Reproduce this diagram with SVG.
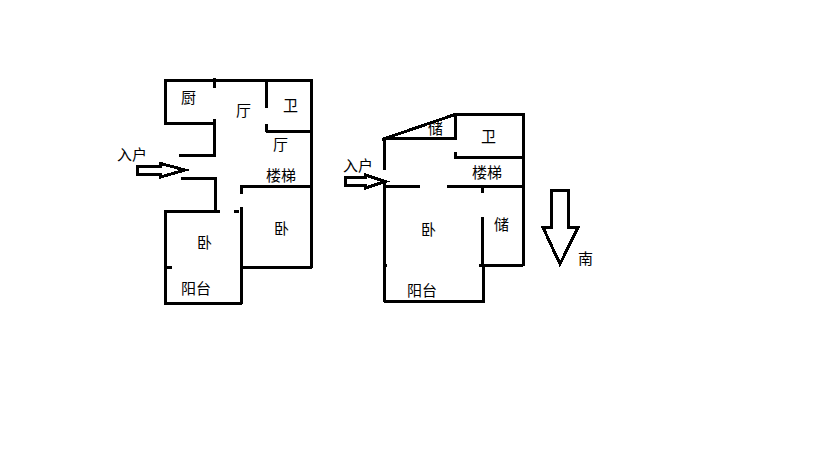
<svg xmlns="http://www.w3.org/2000/svg" width="819" height="460" viewBox="0 0 819 460">
<style>
.w{fill:none;stroke:#000;stroke-width:3;shape-rendering:crispEdges}
.a{fill:#fff;stroke:#000;stroke-width:3;stroke-linejoin:miter;shape-rendering:crispEdges}
text{font-family:"Noto Sans CJK SC","Noto Sans",sans-serif;font-size:15px;fill:#000}
</style>
<rect width="819" height="460" fill="#fff"/>
<g id="plan-left" class="w">
<path d="M214.500 88V80.500H165.500V123.500H214.500V119M214.500 78V88"/>
<path d="M214.500 80.500H311.500V268"/>
<path d="M214.500 123.500V157M179 155.500H216"/>
<path d="M181 178.500H215.500V212"/>
<path d="M266.500 81V108M266.500 124V132M266 131.500H311"/>
<path d="M241.500 194V186.500H311"/>
<path d="M241.500 207V304"/>
<path d="M164 211.500H220M234 211.500H239"/>
<path d="M165.500 210V304M164 303.500H242"/>
<path d="M165 267.500H172M240 267.500H312"/>
</g>
<g id="plan-right" class="w">
<path d="M384.500 170V139M382 139.500L455 114.500H523.500V266"/>
<path d="M384 138.500H455V114"/>
<path d="M455.500 152V157.500H523"/>
<path d="M384.500 180V302M384 186.500H420M447 186.500H523"/>
<path d="M482.500 186V193M482.500 217V265"/>
<path d="M479 265.500H523M483.500 265V303M384 301.500H485M384 265.500H387"/>
</g>
<g id="arrow-left"><path class="a" d="M137.500 166.500H160.500V163.500L185 170L160.500 177V174.500H137.500Z"/></g>
<g id="arrow-right"><path class="a" d="M345.500 177.500H365.500V175L385 181.500L365.500 188V185.500H345.500Z"/></g>
<g id="arrow-south"><path class="a" d="M551.500 190.500H568.500V227.500H578L560 264L543 227.500H551.500Z"/></g>
<g id="labels">
<text x="181" y="103">厨</text>
<text x="236" y="116">厅</text>
<text x="283" y="111">卫</text>
<text x="273" y="150">厅</text>
<text x="266" y="181">楼梯</text>
<text x="117" y="160">入户</text>
<text x="197" y="248">卧</text>
<text x="274" y="234">卧</text>
<text x="181" y="294">阳台</text>
<text x="428" y="134">储</text>
<text x="481" y="142">卫</text>
<text x="343" y="171">入户</text>
<text x="472" y="178">楼梯</text>
<text x="421" y="235">卧</text>
<text x="494" y="230">储</text>
<text x="407" y="296">阳台</text>
<text x="578" y="264">南</text>
</g>
</svg>
